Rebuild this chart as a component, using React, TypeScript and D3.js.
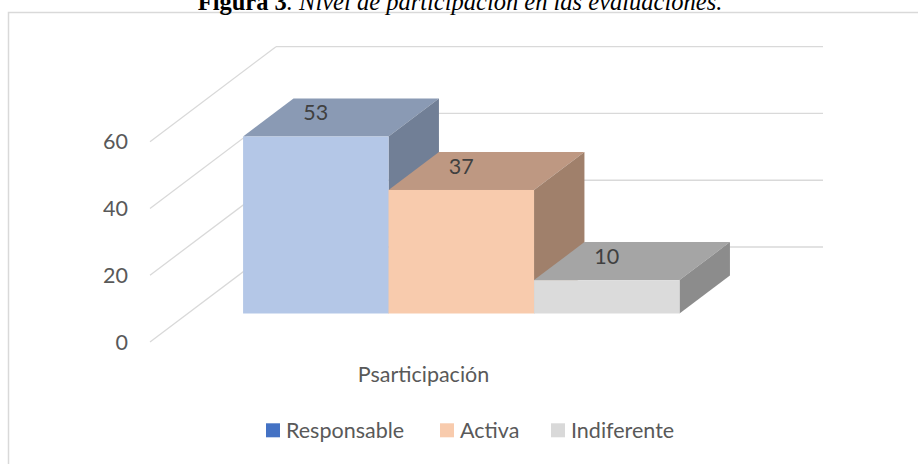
import React from "react";
import * as d3 from "d3";

const categories = ["Responsable", "Activa", "Indiferente"];
const values = [53, 37, 10];
const yTicks = [0, 20, 40, 60];
const axisCategory = "Psarticipación";
const frontColors = ["#B4C7E7", "#F8CBAD", "#DBDBDB"];
const topColors = ["#8A9AB4", "#BE9882", "#A5A5A5"];
const sideColors = ["#717F96", "#A0806B", "#8C8C8C"];
const legendColors = ["#4472C4", "#F8CBAD", "#D9D9D9"];

const W = 918;
const H = 464;
const FONT = "Lato, 'Open Sans', sans-serif";

export default function App() {
  const frontLeft = 150;
  const frontRight = 697;
  const depthX = 126;
  const depthY = -95;
  const y = d3.scaleLinear().domain([0, 60]).range([342, 141.7]);
  const x = d3
    .scaleBand<string>()
    .domain(categories)
    .range([frontLeft, frontRight])
    .paddingInner(0)
    .paddingOuter(0.38);
  const f1 = 0.3;
  const f2 = 0.7;
  const bw = x.bandwidth();
  const pt = (px: number, py: number) => `${px},${py}`;

  return (
    <svg
      width={W}
      height={H}
      style={{ position: "absolute", left: 0, top: 0, background: "#fff" }}
    >
      <rect x={0} y={0} width={W} height={H} fill="#fff" />
      <rect
        x={8.5}
        y={12.5}
        width={W + 10}
        height={H + 10}
        fill="none"
        stroke="#D9D9D9"
        strokeWidth={1.5}
      />
      <text
        x={460}
        y={10}
        textAnchor="middle"
        fontFamily="'Liberation Serif', 'Times New Roman', serif"
        fontSize={24.5}
        fill="#000"
      >
        <tspan fontWeight="bold">Figura 3</tspan>
        <tspan fontStyle="italic">. Nivel de participación en las evaluaciones.</tspan>
      </text>
      {/* gridlines */}
      {yTicks.map((t) => (
        <g key={t}>
          <line
            x1={frontLeft}
            y1={y(t)}
            x2={frontLeft + depthX}
            y2={y(t) + depthY}
            stroke="#D9D9D9"
            strokeWidth={1.3}
          />
          <line
            x1={frontLeft + depthX}
            y1={y(t) + depthY}
            x2={frontRight + depthX}
            y2={y(t) + depthY}
            stroke="#D9D9D9"
            strokeWidth={1.3}
          />
          <text
            x={128}
            y={y(t)}
            dy="0.36em"
            textAnchor="end"
            fontFamily={FONT}
            fontSize={21.5}
            fill="#595959"
          >
            {t}
          </text>
        </g>
      ))}
      {/* bars */}
      {categories.map((c, i) => {
        const x0 = (x(c) as number) + f1 * depthX;
        const x1 = x0 + bw;
        const yb = y(0) + f1 * depthY;
        const h = y(0) - y(values[i]);
        const yt = yb - h;
        const dx = (f2 - f1) * depthX;
        const dy = (f2 - f1) * depthY;
        return (
          <g key={c}>
            <polygon
              points={[pt(x0, yt), pt(x1, yt), pt(x1 + dx, yt + dy), pt(x0 + dx, yt + dy)].join(" ")}
              fill={topColors[i]}
            />
            <polygon
              points={[pt(x1, yt), pt(x1 + dx, yt + dy), pt(x1 + dx, yb + dy), pt(x1, yb)].join(" ")}
              fill={sideColors[i]}
            />
            <rect x={x0} y={yt} width={bw} height={h} fill={frontColors[i]} />
            <text
              x={(x0 + x1) / 2}
              y={yt - 24}
              dy="0.36em"
              textAnchor="middle"
              fontFamily={FONT}
              fontSize={21.5}
              fill="#404040"
            >
              {values[i]}
            </text>
          </g>
        );
      })}
      <text
        x={(frontLeft + frontRight) / 2}
        y={381.5}
        textAnchor="middle"
        fontFamily={FONT}
        fontSize={21.5}
        fill="#595959"
      >
        {axisCategory}
      </text>
      {/* legend */}
      {categories.map((c, i) => {
        const lx = [266, 440, 551][i];
        return (
          <g key={"lg" + c}>
            <rect x={lx} y={423.3} width={14} height={14} fill={legendColors[i]} />
            <text
              x={lx + 20}
              y={430.3}
              dy="0.36em"
              fontFamily={FONT}
              fontSize={21.5}
              fill="#595959"
            >
              {c}
            </text>
          </g>
        );
      })}
    </svg>
  );
}
